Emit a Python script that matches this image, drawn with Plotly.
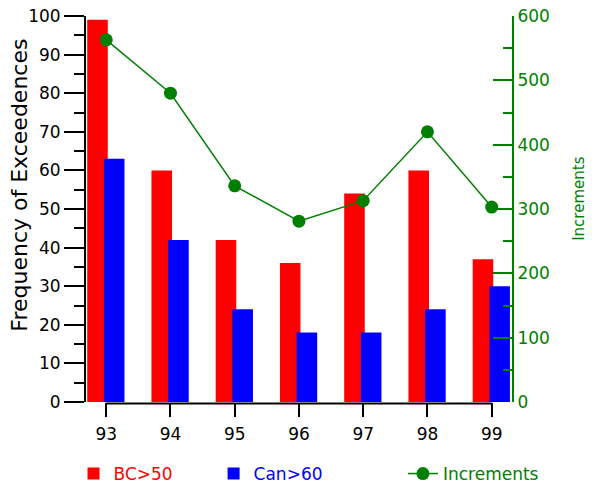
import plotly.graph_objects as go

categories = [93, 94, 95, 96, 97, 98, 99]
tick_labels = ["93", "94", "95", "96", "97", "98", "99"]
bc_over_50 = [99, 60, 42, 36, 54, 60, 37]
can_over_60 = [63, 42, 24, 18, 18, 24, 30]
increments = [563, 480, 336, 281, 313, 420, 303]

RED = "#FF0000"
BLUE = "#0000FF"
GREEN = "#008000"
FONT = "DejaVu Sans"

fig = go.Figure()
fig.add_trace(go.Bar(
    x=categories, y=bc_over_50, name="BC>50",
    marker=dict(color=RED, line=dict(width=0)),
    width=0.32, offset=-0.296, legend="legend",
))
fig.add_trace(go.Bar(
    x=categories, y=can_over_60, name="Can>60",
    marker=dict(color=BLUE, line=dict(width=0)),
    width=0.32, offset=-0.036, legend="legend2",
))
fig.add_trace(go.Scatter(
    x=categories, y=increments, name="Increments", yaxis="y2",
    mode="lines+markers",
    line=dict(color=GREEN, width=1.5),
    marker=dict(color=GREEN, size=13),
    legend="legend3",
))

legend_common = dict(
    orientation="h", yanchor="middle", y=-0.1865, xanchor="left",
    bgcolor="rgba(0,0,0,0)", borderwidth=0,
)

fig.update_layout(
    width=592, height=486,
    margin=dict(l=86, r=80, t=16, b=84, autoexpand=False),
    paper_bgcolor="white", plot_bgcolor="white",
    font=dict(family=FONT, size=17, color="black"),
    barmode="overlay",
    xaxis=dict(
        range=[92.685, 99.316],
        tickmode="array", tickvals=categories, ticktext=tick_labels,
        ticks="outside", ticklen=14, tickwidth=1.5, tickcolor="black",
        ticklabelstandoff=3,
        showline=False, showgrid=False, zeroline=False,
        tickfont=dict(size=17, color="black"),
        automargin=False,
    ),
    yaxis=dict(
        range=[0, 100], dtick=10, tick0=0,
        ticks="outside", ticklen=20, tickwidth=1.5, tickcolor="black",
        minor=dict(dtick=5, ticks="outside", ticklen=10, tickwidth=1.5, tickcolor="black"),
        showline=True, linecolor="black", linewidth=2,
        showgrid=False, zeroline=False,
        tickfont=dict(size=17, color="black"),
        automargin=False,
    ),
    yaxis2=dict(
        overlaying="y", side="right", anchor="x",
        range=[0, 600], dtick=100, tick0=0,
        ticks="inside", ticklen=19, tickwidth=1.5, tickcolor=GREEN,
        minor=dict(dtick=50, ticks="inside", ticklen=9, tickwidth=1.5, tickcolor=GREEN),
        showline=True, linecolor=GREEN, linewidth=2,
        showgrid=False, zeroline=False,
        tickfont=dict(size=17, color=GREEN),
        automargin=False,
    ),
    legend=dict(x=-0.0293, font=dict(size=17, color=RED), **legend_common),
    legend2=dict(x=0.2995, font=dict(size=17, color=BLUE), **legend_common),
    legend3=dict(x=0.744, font=dict(size=17, color=GREEN), **legend_common),
    showlegend=True,
)

# axis titles
fig.add_annotation(
    text="Frequency of Exceedences", textangle=-90,
    xref="paper", yref="paper", x=-0.155, y=0.563,
    xanchor="center", yanchor="middle", showarrow=False,
    font=dict(size=22, color="black"),
)
fig.add_annotation(
    text="Increments", textangle=-90,
    xref="paper", yref="paper", x=1.157, y=0.526,
    xanchor="center", yanchor="middle", showarrow=False,
    font=dict(size=15, color=GREEN),
)

# x axis baseline spanning the first to the last category
fig.add_shape(
    type="line", xref="x", yref="paper",
    x0=categories[0], x1=categories[-1], y0=-0.004, y1=-0.004,
    line=dict(color="black", width=2),
)

fig.write_html(
    "out.html",
    config={"displayModeBar": False},
    post_script="document.body.style.margin='0';document.body.style.overflow='hidden';",
)
